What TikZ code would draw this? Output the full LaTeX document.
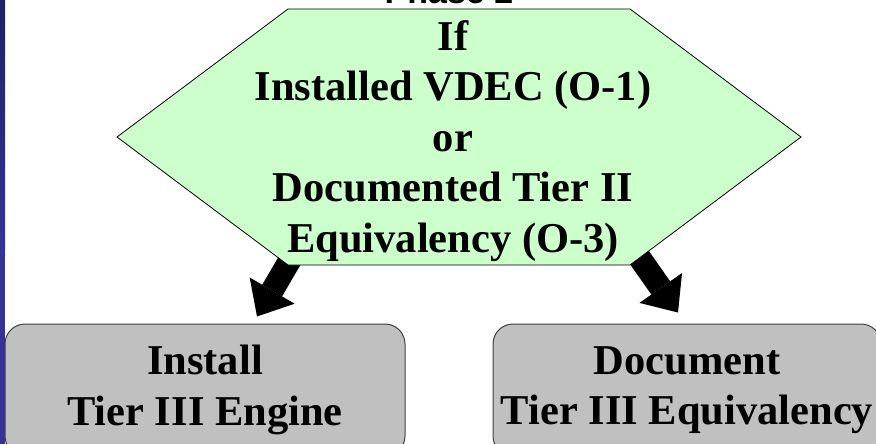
\documentclass[tikz,border=0pt]{standalone}
\usepackage{fontspec}
\setmainfont{Liberation Serif}
\newfontfamily\headfont{Liberation Sans}
\usetikzlibrary{arrows.meta}
\definecolor{condgreen}{HTML}{CCFFCC}
\definecolor{boxgray}{HTML}{C0C0C0}
\definecolor{edgegray}{HTML}{404040}
\definecolor{stripblue}{HTML}{333399}
\definecolor{stripdark}{HTML}{1C2366}
\definecolor{striplight}{HTML}{8FA3D9}

\begin{document}
\begin{tikzpicture}[x=1pt,y=-1pt,font=\bfseries\fontsize{42.5}{50.5}\selectfont]
\tikzstyle{box}=[draw=edgegray,line width=1pt,fill=boxgray,rounded corners=20pt,minimum height=132pt,align=center]
\tikzstyle{hexa}=[draw,line width=0.8pt,fill=condgreen]
\tikzstyle{fatarrow}=[line width=23pt,-{Triangle[length=30pt,width=52pt,line width=0pt]}]
\useasboundingbox (0,0) rectangle (876,444);
\clip (0,0) rectangle (876,444);
% slide edge
\shade[top color=stripdark,middle color=striplight,bottom color=stripblue] (0,0) rectangle (5,250);
\fill[stripblue] (0,250) rectangle (5,444);
\node[font=\headfont\bfseries\fontsize{34}{40}\selectfont,anchor=base,inner sep=0pt] (phase) at (449,4) {Phase 2};
% outcomes
\node[box,minimum width=400pt] (inst) at (205,390) {Install\\Tier III Engine};
\node[box,minimum width=388pt] (docu) at (687,390) {Document\\Tier III Equivalency};
\coordinate (lstart) at (297,248);
\coordinate (ltip) at ([xshift=52pt,yshift=7pt]inst.north);
\coordinate (rstart) at (632,247);
\coordinate (rtip) at ([xshift=-9pt,yshift=11pt]docu.north);
\draw[fatarrow] (lstart) -- (ltip);
\draw[fatarrow] (rstart) -- (rtip);
% condition
\draw[hexa] (117,137) -- (288,9) -- (630,9) -- (801,137) -- (630,265) -- (288,265) -- cycle;
\node[align=center] (cond) at (453,141) {If\\Installed VDEC (O-1)\\or\\Documented Tier II\\Equivalency (O-3)};
\end{tikzpicture}
\end{document}
